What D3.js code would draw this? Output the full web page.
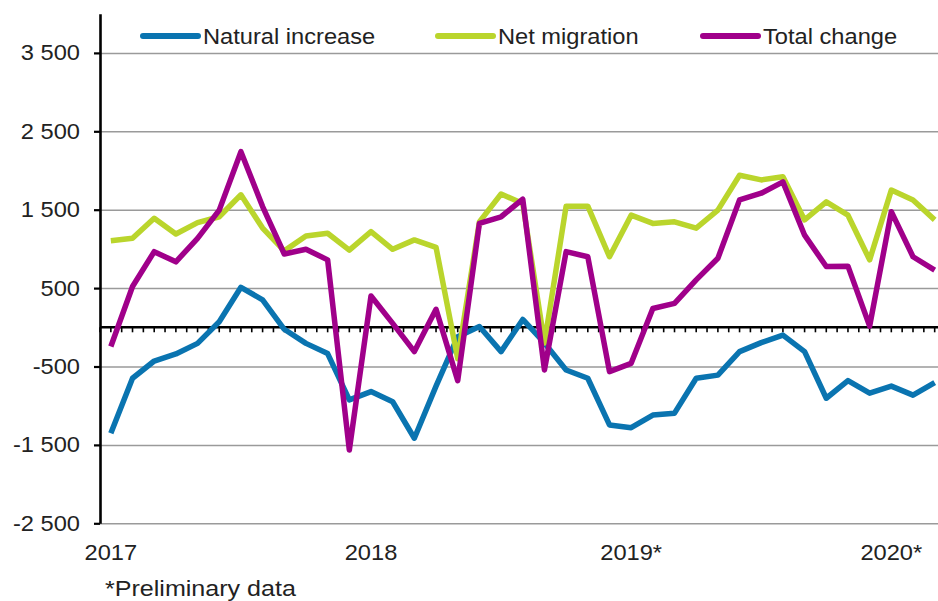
<!DOCTYPE html>
<html>
<head>
<meta charset="utf-8">
<script src="https://cdn.jsdelivr.net/npm/d3@7"></script>
<style>
  body { margin: 0; background: #fff; }
  text { font-family: "Liberation Sans", Arial, sans-serif; fill: #222; }
</style>
</head>
<body>
<div id="chart"></div>
<script>
// monthly data, Jan 2017 - Mar 2020
var months = d3.range(39);
var natural_increase = [-1350, -650, -430, -340, -205, 70, 510, 350, -25, -205,
  -335, -925, -820, -950, -1415, -750, -120, 10, -310, 100,
  -200, -545, -650, -1245, -1280, -1120, -1095, -650, -610, -310,
  -195, -100, -310, -905, -680, -840, -750, -865, -705];
var net_migration = [1105, 1135, 1390, 1190, 1335, 1410, 1690, 1265, 975, 1165,
  1200, 985, 1220, 995, 1115, 1020, -400, 1345, 1700, 1580,
  -200, 1545, 1545, 900, 1430, 1325, 1345, 1265, 1495, 1940,
  1880, 1920, 1370, 1600, 1430, 860, 1750, 1625, 1370];
var total_change = [-245, 520, 965, 835, 1135, 1495, 2240, 1540, 935, 995,
  860, -1565, 400, 50, -310, 230, -680, 1325, 1410, 1635,
  -545, 965, 900, -565, -460, 240, 305, 605, 880, 1625,
  1710, 1855, 1175, 775, 780, 15, 1475, 900, 730];
var year_labels = ["2017", "2018", "2019*", "2020*"];
var year_index = [0, 12, 24, 36];
var y_ticks = [3500, 2500, 1500, 500, -500, -1500, -2500];
var series_names = ["Natural increase", "Net migration", "Total change"];
var series_colors = ["#0a74b0", "#bad52c", "#a0008a"];

var width = 938, height = 601;
var margin = {left: 100, right: 938, top: 13.7, bottom: 523.3};
var month_w = 21.68;
var sx = 1.1; // text is a bit wide in the reference
var font = "21.5px";

var svg = d3.select("#chart").append("svg")
  .attr("width", width)
  .attr("height", height);

var x = d3.scaleLinear().domain([0, 1]).range([margin.left, margin.left + month_w]);
var y = d3.scaleLinear().domain([-2500, 4000]).range([margin.bottom, margin.top]);

var locale = d3.formatLocale({decimal: ",", thousands: " ", grouping: [3], currency: ["", ""], minus: "-"});
var fmt = locale.format(",d");

// grid lines
svg.append("g")
  .attr("transform", "translate(" + margin.left + ",0)")
  .call(d3.axisLeft(y).tickValues(y_ticks).tickSize(-(margin.right - margin.left)).tickFormat(""))
  .call(function(g) {
    g.select(".domain").remove();
    g.selectAll("line").attr("stroke", "#9a9a9a").attr("stroke-width", 1.5);
  });

// zero line with half-month ticks
var half = d3.range(0, 78);
svg.append("g").selectAll("line")
  .data(half)
  .join("line")
  .attr("x1", function(d) { return x(d / 2); })
  .attr("x2", function(d) { return x(d / 2); })
  .attr("y1", y(0))
  .attr("y2", y(0) + 5)
  .attr("stroke", "#000")
  .attr("stroke-width", 1.6);
svg.append("line")
  .attr("x1", margin.left).attr("x2", margin.right)
  .attr("y1", y(0)).attr("y2", y(0))
  .attr("stroke", "#000")
  .attr("stroke-width", 2.5);

// y axis
svg.append("g")
  .attr("transform", "translate(" + margin.left + ",0)")
  .call(d3.axisLeft(y).tickValues(y_ticks).tickSizeOuter(0).tickSizeInner(6).tickFormat(""))
  .call(function(g) {
    g.select(".domain").attr("stroke", "#000").attr("stroke-width", 2.6);
    g.selectAll("line").attr("stroke", "#000").attr("stroke-width", 2.2);
  });

svg.append("g").selectAll("text")
  .data(y_ticks)
  .join("text")
  .attr("transform", function(d) { return "translate(80," + (y(d) + 7.5) + ") scale(" + sx + ",1)"; })
  .attr("text-anchor", "end")
  .style("font-size", font)
  .text(function(d) { return fmt(d); });

// year labels
svg.append("g").selectAll("text")
  .data(year_labels)
  .join("text")
  .attr("transform", function(d, i) { return "translate(" + x(year_index[i] + 0.5) + ",560) scale(" + sx + ",1)"; })
  .attr("text-anchor", "middle")
  .style("font-size", font)
  .text(function(d) { return d; });

// data lines
var all_series = [natural_increase, net_migration, total_change];
var line = d3.line()
  .x(function(d, i) { return x(i + 0.5); })
  .y(function(d) { return y(d); });

all_series.forEach(function(values, k) {
  svg.append("path")
    .datum(values)
    .attr("d", line)
    .attr("fill", "none")
    .attr("stroke", series_colors[k])
    .attr("stroke-width", 5.5)
    .attr("stroke-linejoin", "round");
});

// legend
var legend_x = [143, 438, 703];
series_names.forEach(function(name, k) {
  svg.append("line")
    .attr("x1", legend_x[k]).attr("x2", legend_x[k] + 55)
    .attr("y1", 36).attr("y2", 36)
    .attr("stroke", series_colors[k])
    .attr("stroke-width", 6)
    .attr("stroke-linecap", "round");
  svg.append("text")
    .attr("transform", "translate(" + (legend_x[k] + 60) + ",44) scale(" + sx + ",1)")
    .style("font-size", font)
    .text(name);
});

svg.append("text")
  .attr("transform", "translate(105,596) scale(1.14,1)")
  .style("font-size", "22px")
  .text("*Preliminary data");
</script>
</body>
</html>
